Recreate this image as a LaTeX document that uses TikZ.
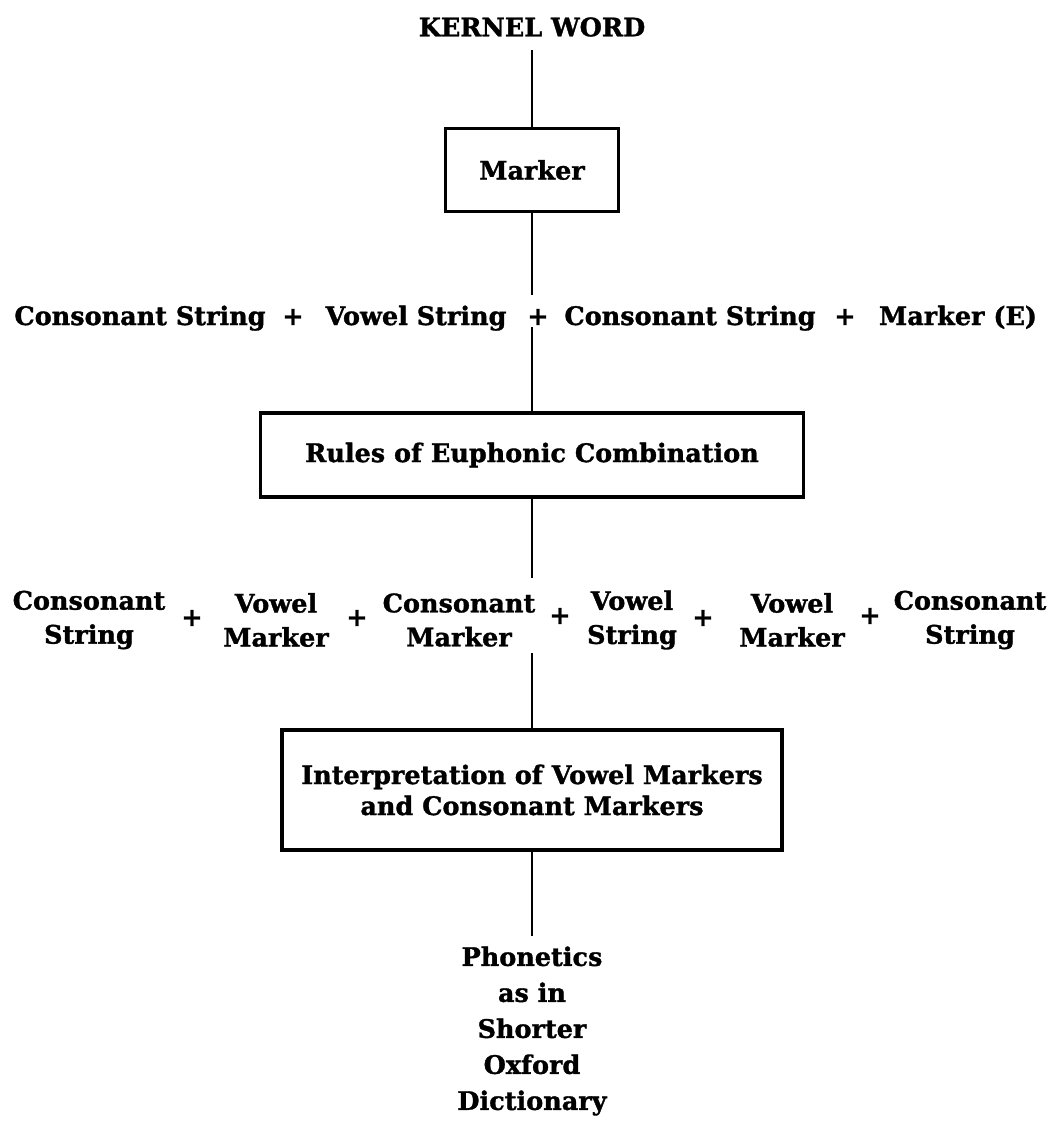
\documentclass[tikz,border=0pt]{standalone}
\usepackage{fontspec}
\setmainfont{DejaVu Serif}[BoldFeatures={FakeBold=1.3}]
\begin{document}
\begin{tikzpicture}[x=1pt,y=-1pt,
  txt/.style={font=\fontsize{25.5}{34}\selectfont\bfseries, inner sep=0pt, align=center},
  plus/.style={font=\fontsize{25.5}{30}\selectfont\bfseries, inner sep=0pt},
  stagebox/.style={draw, line width=3.5pt, inner sep=0pt, align=center,
    font=\fontsize{25.5}{34}\selectfont\bfseries},
  wire/.style={line width=2.5pt}]
\useasboundingbox (0,0) rectangle (1054,1122);

% top: kernel word and its marker
\node[txt] (kw) at (532,27) {KERNEL WORD};
\node[stagebox, minimum width=173, minimum height=83] (mk) at (532,170) {Marker};

% first expansion
\node[txt, anchor=base] (c1) at (140,325) {Consonant String};
\node[plus, anchor=base] (p1) at (293,325) {+};
\node[txt, anchor=base] (v1) at (416,325) {Vowel String};
\node[plus, anchor=base] (p2) at (538,325) {+};
\node[txt, anchor=base] (c2) at (690,325) {Consonant String};
\node[plus, anchor=base] (p3) at (845,325) {+};
\node[txt, anchor=base] (m1) at (958,325) {Marker (E)};
\coordinate (r1top) at (532,295);
\coordinate (r1bot) at (532,327);

\node[stagebox, minimum width=543, minimum height=84] (rules) at (532,455)
  {Rules of Euphonic Combination};

% second expansion
\node[txt] (s1) at (89,620) {Consonant\\String};
\node[plus] (q1) at (192,618) {+};
\node[txt] (s2) at (276,620) {Vowel\\Marker};
\node[plus] (q2) at (357,618) {+};
\node[txt] (s3) at (459,620) {Consonant\\Marker};
\node[plus] (q3) at (560,616) {+};
\node[txt] (s4) at (632,620) {Vowel\\String};
\node[plus] (q4) at (703,618) {+};
\node[txt] (s5) at (792,620) {Vowel\\Marker};
\node[plus] (q5) at (870,616) {+};
\node[txt] (s6) at (970,620) {Consonant\\String};
\coordinate (r2top) at (532,578);
\coordinate (r2bot) at (532,653);

\node[stagebox, minimum width=500, minimum height=120, font=\fontsize{25.5}{31}\selectfont\bfseries]
  (interp) at (532,790) {Interpretation of Vowel Markers\\and Consonant Markers};

\node[txt, font=\fontsize{25.5}{36}\selectfont\bfseries] (ph) at (532,1031)
  {Phonetics\\as in\\Shorter\\Oxford\\Dictionary};
\coordinate (phtop) at (532,936);

% spine
\draw[wire] ([yshift=-13pt]kw.south) -- (mk.north);
\draw[wire] (mk.south) -- (r1top);
\draw[wire] (r1bot) -- (rules.north);
\draw[wire] (rules.south) -- (r2top);
\draw[wire] (r2bot) -- (interp.north);
\draw[wire] (interp.south) -- (phtop);
\end{tikzpicture}
\end{document}
